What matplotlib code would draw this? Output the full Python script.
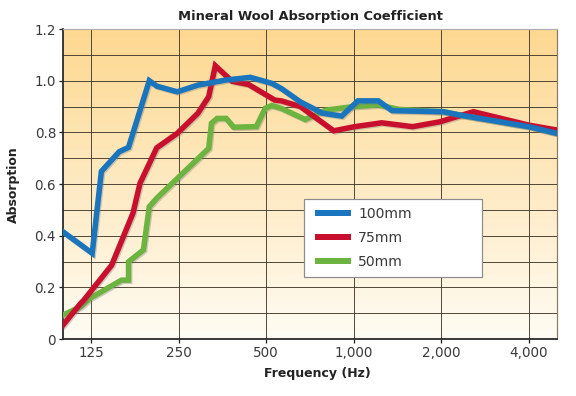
import numpy as np
import matplotlib.pyplot as plt
import matplotlib.patheffects as pe
from matplotlib.colors import LinearSegmentedColormap
from matplotlib.legend_handler import HandlerLine2D

# values (frequency in Hz, absorption coefficient)
freq_100 = [100, 126, 135.5, 156, 168, 198, 210, 247, 291, 365, 441, 522, 563, 655,
            781, 909, 1033, 1215, 1354, 2032, 2322, 4000, 5000]
abs_100 = [0.415, 0.332, 0.649, 0.725, 0.742, 1.000, 0.979, 0.957, 0.983, 1.003, 1.013,
           0.990, 0.970, 0.918, 0.874, 0.863, 0.922, 0.922, 0.884, 0.880, 0.867, 0.822, 0.796]

freq_75 = [100, 115, 118, 147, 174, 184, 210, 247, 291, 317, 334, 381, 435, 535, 563,
           655, 853, 1006, 1248, 1593, 1979, 2580, 4000, 5000]
abs_75 = [0.054, 0.138, 0.151, 0.286, 0.487, 0.603, 0.740, 0.796, 0.874, 0.938, 1.058,
          0.998, 0.985, 0.925, 0.922, 0.900, 0.806, 0.822, 0.837, 0.822, 0.841, 0.880,
          0.828, 0.809]

freq_50 = [100, 115, 124, 159, 168, 168, 189, 198, 210, 317, 324, 339, 364, 386, 462,
           496, 522, 563, 680, 801, 980, 1215, 1430, 2032, 2322, 4000, 5000]
abs_50 = [0.093, 0.125, 0.158, 0.228, 0.228, 0.299, 0.345, 0.512, 0.545, 0.738, 0.835,
          0.854, 0.854, 0.820, 0.822, 0.893, 0.904, 0.893, 0.850, 0.886, 0.899, 0.906,
          0.889, 0.880, 0.867, 0.822, 0.796]

x_ticks = [125, 250, 500, 1000, 2000, 4000]
x_labels = ["125", "250", "500", "1,000", "2,000", "4,000"]
y_ticks = [0, 0.2, 0.4, 0.6, 0.8, 1.0, 1.2]
y_labels = ["0", "0.2", "0.4", "0.6", "0.8", "1.0", "1.2"]


# legend line that starts a bit further in from the frame
class PaddedLine(HandlerLine2D):
    def get_xdata(self, legend, xdescent, ydescent, width, height, fontsize):
        xdata, xmark = super().get_xdata(legend, xdescent, ydescent, width, height, fontsize)
        xdata = np.array(xdata, dtype=float)
        xdata[0] += 6
        return xdata, xmark


fig = plt.figure(figsize=(8, 5.5), dpi=72)
ax = fig.add_axes([0.1094, 0.1439, 0.8576, 0.7828])

# orange to white background
grad = np.linspace(0, 1, 256).reshape(-1, 1)
cmap = LinearSegmentedColormap.from_list("bg", ["#fdd890", "#fffcf4"])
ax.imshow(grad, extent=(0, 1, 0, 1), transform=ax.transAxes, aspect="auto",
          cmap=cmap, zorder=0)

ax.set_xscale("log")
ax.set_xlim(100, 5000)
ax.set_ylim(0, 1.2)

ax.set_xticks(x_ticks)
ax.set_xticklabels(x_labels)
ax.minorticks_off()
ax.set_yticks(y_ticks)
ax.set_yticklabels(y_labels)
ax.set_yticks(np.arange(0.1, 1.2, 0.2), minor=True)

ax.grid(True, which="both", axis="y", color="#45392a", lw=0.9, zorder=1)
ax.grid(True, which="major", axis="x", color="#45392a", lw=0.9, zorder=1)
ax.tick_params(axis="y", which="minor", length=0)
ax.tick_params(axis="both", which="major", direction="out", length=4, width=1.3,
               color="#222222", labelsize=13.5, labelcolor="#3a3a3a", pad=3)

for s in ["left", "bottom"]:
    ax.spines[s].set_linewidth(1.8)
    ax.spines[s].set_color("#2a2a2a")
ax.spines["top"].set_color("#b0b0b0")
ax.spines["right"].set_color("#8a7a60")
ax.spines["top"].set_linewidth(1.2)
ax.spines["right"].set_linewidth(1.2)

shadow = [pe.SimpleLineShadow(offset=(1.2, -1.2), shadow_color="#777777", alpha=0.35),
          pe.Normal()]
ax.plot(freq_50, abs_50, color="#6cb33f", lw=5.5, label="50mm", zorder=3,
        solid_joinstyle="miter", path_effects=shadow)
ax.plot(freq_75, abs_75, color="#c8102e", lw=5.5, label="75mm", zorder=4,
        solid_joinstyle="miter", path_effects=shadow)
ax.plot(freq_100, abs_100, color="#1b75bc", lw=5.5, label="100mm", zorder=5,
        solid_joinstyle="miter", path_effects=shadow)

handles, labels = ax.get_legend_handles_labels()
leg = ax.legend(handles[::-1], labels[::-1], loc="upper left",
                bbox_to_anchor=(0.488, 0.2, 0.36, 0.2516), mode="expand",
                borderaxespad=0, fontsize=14, handlelength=2.57, handletextpad=0.71,
                labelspacing=0.71, borderpad=0.57, fancybox=False, framealpha=1,
                edgecolor="#8c8c8c", handler_map={h: PaddedLine() for h in handles})
leg.get_frame().set_linewidth(1.2)
for t in leg.get_texts():
    t.set_color("#3a3a3a")
for h in leg.get_lines():
    h.set_linewidth(6)
    h.set_path_effects([])

fig.text(0.5386, 0.958, "Mineral Wool Absorption Coefficient", ha="center", va="center",
         fontsize=13, fontweight="bold", color="#222222")
fig.text(0.5503, 0.058, "Frequency (Hz)", ha="center", va="center",
         fontsize=12.5, fontweight="bold", color="#222222")
fig.text(0.024, 0.535, "Absorption", ha="center", va="center", rotation=90,
         fontsize=12.5, fontweight="bold", color="#222222")

fig.savefig("out.png", dpi=72)
